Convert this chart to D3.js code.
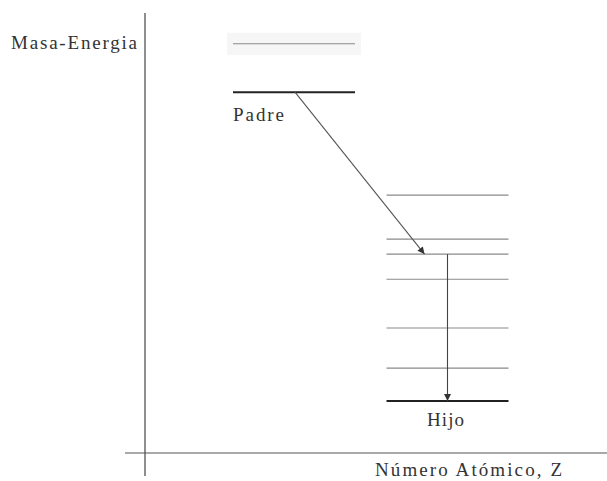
<!DOCTYPE html>
<html>
<head>
<meta charset="utf-8">
<script src="https://cdn.jsdelivr.net/npm/d3@7"></script>
<style>
    body { margin: 0; background: #fff; }
    text { font-family: "Liberation Serif", "DejaVu Serif", serif; fill: #333; }
</style>
</head>
<body>
<div id="chart"></div>
<script>
// Niveles de energia (unidades arbitrarias) y numero atomico relativo
const parentLevels = [93.0, 82.0];          // el ultimo es el fundamental
const daughterLevels = [58.6, 48.6, 45.2, 39.5, 28.4, 19.3, 11.8];
const parentZ = 0;
const daughterZ = 1;
const betaTarget = 45.2;                    // nivel del hijo al que llega la desintegracion
const gammaTarget = 11.8;                   // fundamental del hijo
const labels = { y: 'Masa-Energia', x: 'Número Atómico, Z', parent: 'Padre', daughter: 'Hijo' };

let width = 607;
let height = 481;

let svg = d3.select('#chart').append('svg')
    .attr('width', width)
    .attr('height', height);

const y = d3.scaleLinear().domain([0, 100]).range([453, 13]);
const x = d3.scaleLinear().domain([parentZ, daughterZ]).range([294, 447.5]);
const halfW = 61;

// Marcadores de flecha
let defs = svg.append('defs');
defs.append('marker')
    .attr('id', 'head')
    .attr('viewBox', '0 0 10 10')
    .attr('refX', 10).attr('refY', 5)
    .attr('markerWidth', 9).attr('markerHeight', 7)
    .attr('markerUnits', 'userSpaceOnUse')
    .attr('orient', 'auto')
    .append('path')
    .attr('d', 'M0,0 L10,5 L0,10 z')
    .attr('fill', '#333');

// Ejes
svg.append('line')
    .attr('x1', 145).attr('x2', 145)
    .attr('y1', y(100)).attr('y2', 476)
    .attr('stroke', '#444').attr('stroke-width', 1.2);
svg.append('line')
    .attr('x1', 125).attr('x2', 607)
    .attr('y1', y(0)).attr('y2', y(0))
    .attr('stroke', '#555').attr('stroke-width', 1.2);

// Fondo tenue del nivel excitado del padre
svg.append('rect')
    .attr('x', x(parentZ) - halfW - 6).attr('y', y(parentLevels[0]) - 11)
    .attr('width', 2 * halfW + 12).attr('height', 22)
    .attr('fill', '#f6f6f6');

function drawLevels(levels, z, ground) {
    svg.append('g')
        .selectAll('line')
        .data(levels)
        .enter()
        .append('line')
        .attr('x1', x(z) - halfW)
        .attr('x2', x(z) + halfW)
        .attr('y1', d => y(d))
        .attr('y2', d => y(d))
        .attr('stroke', d => d == ground ? '#222' : '#8a8a8a')
        .attr('stroke-width', d => d == ground ? 2 : 1.1);
}

drawLevels(parentLevels, parentZ, parentLevels[parentLevels.length - 1]);
drawLevels(daughterLevels, daughterZ, gammaTarget);

// Desintegracion beta: padre -> hijo
let parentGround = parentLevels[parentLevels.length - 1];
svg.append('line')
    .attr('x1', x(parentZ) + 1).attr('y1', y(parentGround))
    .attr('x2', x(daughterZ) - 23).attr('y2', y(betaTarget))
    .attr('stroke', '#555').attr('stroke-width', 1.1)
    .attr('marker-end', 'url(#head)');

// Transicion gamma
svg.append('line')
    .attr('x1', x(daughterZ)).attr('y1', y(betaTarget))
    .attr('x2', x(daughterZ)).attr('y2', y(gammaTarget))
    .attr('stroke', '#444').attr('stroke-width', 1.1)
    .attr('marker-end', 'url(#head)');

// Textos
svg.append('text')
    .attr('x', 11).attr('y', 49)
    .attr('font-size', 19)
    .attr('textLength', 126).attr('lengthAdjust', 'spacing')
    .text(labels.y);

svg.append('text')
    .attr('x', 233).attr('y', 121)
    .attr('font-size', 19)
    .attr('textLength', 51).attr('lengthAdjust', 'spacing')
    .text(labels.parent);

svg.append('text')
    .attr('x', 427).attr('y', 426)
    .attr('font-size', 19)
    .attr('textLength', 37).attr('lengthAdjust', 'spacing')
    .text(labels.daughter);

svg.append('text')
    .attr('x', 375).attr('y', 476)
    .attr('font-size', 19)
    .attr('textLength', 187).attr('lengthAdjust', 'spacing')
    .text(labels.x);
</script>
</body>
</html>
